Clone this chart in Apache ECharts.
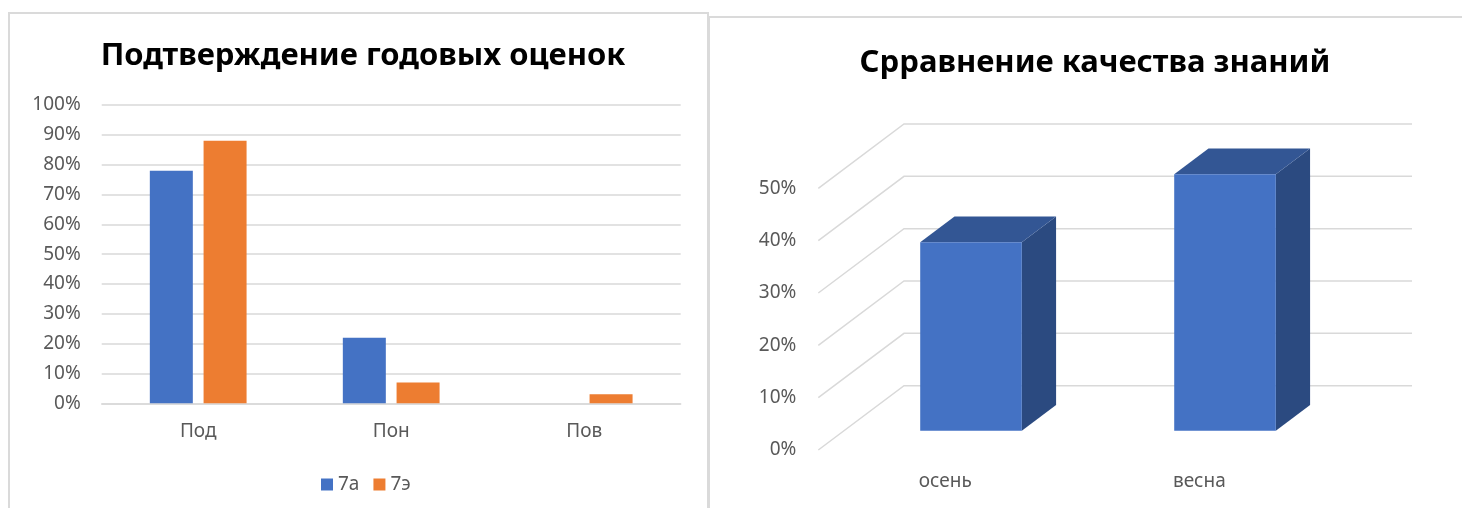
<!DOCTYPE html>
<html>
<head>
<meta charset="utf-8">
<script src="https://cdn.jsdelivr.net/npm/echarts@6/dist/echarts.min.js"></script>
<style>
  html, body { margin: 0; padding: 0; background: #fff; overflow: hidden; }
  .panel { position: absolute; box-sizing: border-box; border: 2px solid #dadada; }
  #p1 { left: 8px; top: 12px; width: 701px; height: 520px; }
  #p2 { left: 708px; top: 16px; width: 780px; height: 520px; border-right: none; }
  #chart { position: absolute; left: 0; top: 0; width: 1462px; height: 508px; }
</style>
</head>
<body>
<div class="panel" id="p1"></div>
<div class="panel" id="p2"></div>
<div id="chart"></div>
<script>
// левая диаграмма
var categories1 = ['Под', 'Пон', 'Пов'];
var series7a = [0.78, 0.22, null];
var series7e = [0.88, 0.07, 0.03];
var yTicks1 = [0, 0.1, 0.2, 0.3, 0.4, 0.5, 0.6, 0.7, 0.8, 0.9, 1];

// правая диаграмма (объёмная)
var categories2 = ['осень', 'весна'];
var quality = [0.36, 0.49];
var yTicks2 = [0, 0.1, 0.2, 0.3, 0.4, 0.5];

var DX = 85.7, DY = -64.3; // глубина пола
var labelColor = '#595959';
var gridColor = '#d9d9d9';

function pct(v) { return Math.round(v * 100) + '%'; }

var myChart = echarts.init(document.getElementById('chart'));

var option = {
  animation: false,
  textStyle: { fontFamily: 'Noto Sans' },
  title: [
    {
      text: 'Подтверждение годовых оценок',
      left: 358, top: 36, textAlign: 'center',
      textStyle: { fontSize: 31, fontWeight: 'bold', color: '#000', fontFamily: 'Noto Sans' }
    },
    {
      text: 'Срравнение качества знаний',
      left: 1090, top: 43, textAlign: 'center',
      textStyle: { fontSize: 31, fontWeight: 'bold', color: '#000', fontFamily: 'Noto Sans' }
    }
  ],
  legend: {
    left: 316, top: 470,
    itemWidth: 12, itemHeight: 12, itemGap: 14,
    icon: 'rect',
    textStyle: { color: labelColor, fontSize: 19 },
    data: ['7а', '7э']
  },
  grid: [
    { left: 101.7, top: 105, width: 579, height: 298.3 },
    { left: 818.3, top: 188.3, width: 508, height: 261.7 }
  ],
  xAxis: [
    {
      gridIndex: 0, type: 'category', data: categories1,
      axisLine: { lineStyle: { color: gridColor, width: 1.5 } },
      axisTick: { show: false },
      axisLabel: { color: labelColor, fontSize: 19, margin: 19 }
    },
    {
      gridIndex: 1, type: 'category', data: categories2,
      axisLine: { show: false },
      axisTick: { show: false },
      axisLabel: { color: labelColor, fontSize: 19, margin: 22 }
    }
  ],
  yAxis: [
    {
      gridIndex: 0, type: 'value', min: 0, max: 1, interval: 0.1,
      axisLine: { show: false }, axisTick: { show: false },
      axisLabel: { color: labelColor, fontSize: 19, margin: 21, formatter: pct },
      splitLine: { lineStyle: { color: gridColor, width: 1.5 } }
    },
    {
      gridIndex: 1, type: 'value', min: 0, max: 0.5, interval: 0.1,
      axisLine: { show: false }, axisTick: { show: false },
      axisLabel: { color: labelColor, fontSize: 19, margin: 22, formatter: pct },
      splitLine: { show: false }
    }
  ],
  series: [
    {
      name: '7а', type: 'bar', xAxisIndex: 0, yAxisIndex: 0,
      barWidth: 43, barGap: '25%',
      itemStyle: { color: '#4472C4' },
      data: series7a
    },
    {
      name: '7э', type: 'bar', xAxisIndex: 0, yAxisIndex: 0,
      barWidth: 43, barGap: '25%',
      itemStyle: { color: '#ED7D31' },
      data: series7e
    },
    {
      // линии сетки: боковая стенка и задняя стенка
      type: 'custom', xAxisIndex: 1, yAxisIndex: 1, silent: true,
      data: yTicks2.map(function(v) { return [0, v]; }),
      renderItem: function(params, api) {
        var cs = params.coordSys;
        var y = api.coord([0, api.value(1)])[1];
        var x0 = cs.x;
        return {
          type: 'polyline',
          shape: { points: [[x0, y], [x0 + DX, y + DY], [x0 + DX + cs.width, y + DY]] },
          style: { stroke: gridColor, lineWidth: 1.5, fill: null }
        };
      }
    },
    {
      type: 'custom', xAxisIndex: 1, yAxisIndex: 1,
      data: quality.map(function(v, i) { return [i, v]; }),
      renderItem: function(params, api) {
        var base = api.coord([api.value(0), 0]);
        var top = api.coord([api.value(0), api.value(1)]);
        var bw = api.size([1, 0])[0] * 0.4;
        var fx = base[0] - bw / 2 + 0.3 * DX;
        var fy0 = base[1] + 0.3 * DY;
        var fy1 = top[1] + 0.3 * DY;
        var dx = 0.4 * DX, dy = 0.4 * DY;
        return {
          type: 'group',
          children: [
            {
              type: 'polygon',
              shape: { points: [[fx + bw, fy1], [fx + bw + dx, fy1 + dy], [fx + bw + dx, fy0 + dy], [fx + bw, fy0]] },
              style: { fill: '#2B4A80' }
            },
            {
              type: 'polygon',
              shape: { points: [[fx, fy1], [fx + bw, fy1], [fx + bw + dx, fy1 + dy], [fx + dx, fy1 + dy]] },
              style: { fill: '#335694' }
            },
            {
              type: 'rect',
              shape: { x: fx, y: fy1, width: bw, height: fy0 - fy1 },
              style: { fill: '#4472C4' }
            }
          ]
        };
      }
    }
  ]
};

if (option && typeof option === "object") {
  myChart.setOption(option, true);
}
</script>
</body>
</html>
